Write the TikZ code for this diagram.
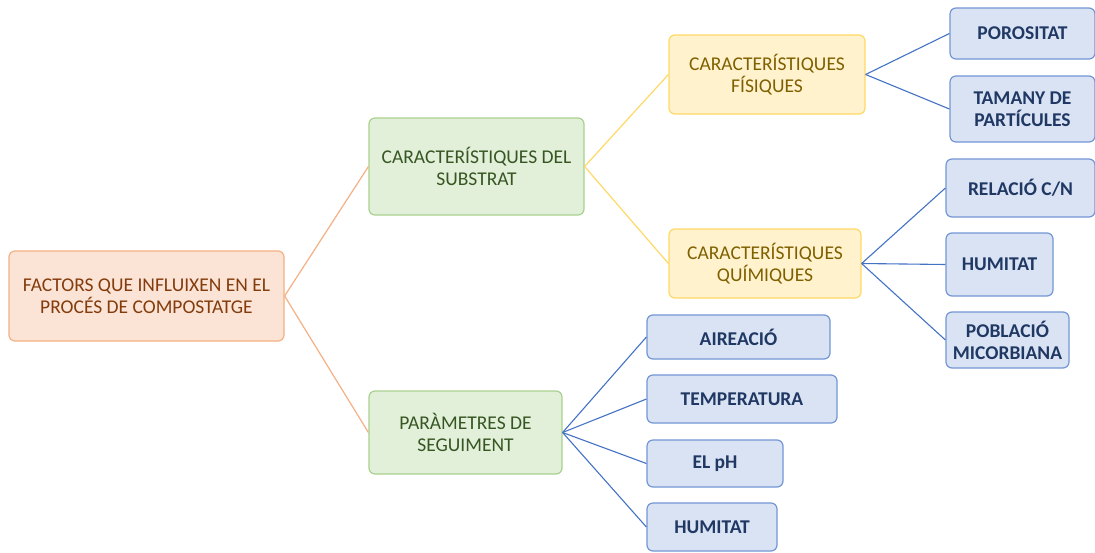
\documentclass[tikz,border=0pt]{standalone}
\usepackage{fontspec}
\setmainfont{Carlito}
\definecolor{rootfill}{HTML}{FBE3D6}
\definecolor{rootline}{HTML}{F4B183}
\definecolor{roottext}{HTML}{843C0C}
\definecolor{greenfill}{HTML}{E2F0D9}
\definecolor{greenline}{HTML}{A9D18E}
\definecolor{greentext}{HTML}{375623}
\definecolor{yellowfill}{HTML}{FFF2CC}
\definecolor{yellowline}{HTML}{FFD966}
\definecolor{yellowtext}{HTML}{7F6000}
\definecolor{bluefill}{HTML}{DAE3F3}
\definecolor{blueline}{HTML}{7396D6}
\definecolor{bluetext}{HTML}{203864}
\definecolor{blueconn}{HTML}{4472C4}
\begin{document}
\begin{tikzpicture}[x=1pt,y=-1pt,
  box/.style={draw, line width=1.2pt, rounded corners=6pt, align=center,
    inner sep=0pt, font=\fontsize{19.5}{22}\selectfont},
  rootbox/.style={box, fill=rootfill, draw=rootline, text=roottext},
  greenbox/.style={box, fill=greenfill, draw=greenline, text=greentext},
  yellowbox/.style={box, fill=yellowfill, draw=yellowline, text=yellowtext},
  bluebox/.style={box, fill=bluefill, draw=blueline, text=bluetext,
    font=\fontsize{19.5}{22}\selectfont\bfseries},
  rootconn/.style={draw=rootline, line width=1.2pt},
  yellowconn/.style={draw=yellowline, line width=1.2pt},
  blueconn/.style={draw=blueconn, line width=1.1pt}]
\useasboundingbox (0,0) rectangle (1095,552);
\fill[white] (0,0) rectangle (1095,552);

% level 0
\node[rootbox, minimum width=275pt, minimum height=90pt] (root) at (146.5,296)
  {FACTORS QUE INFLUIXEN EN EL\\PROCÉS DE COMPOSTATGE};

% level 1
\node[greenbox, minimum width=215pt, minimum height=97pt] (subs) at (476.5,166.5)
  {CARACTERÍSTIQUES DEL\\SUBSTRAT};
\node[greenbox, minimum width=193pt, minimum height=83pt] (param) at (465.5,432.5)
  {PARÀMETRES DE\\SEGUIMENT};

% level 2
\node[yellowbox, minimum width=196pt, minimum height=79pt] (fis) at (767,74.5)
  {CARACTERÍSTIQUES\\FÍSIQUES};
\node[yellowbox, minimum width=192pt, minimum height=69pt] (quim) at (765,263.5)
  {CARACTERÍSTIQUES\\QUÍMIQUES};

% leaves of the physical characteristics
\node[bluebox, minimum width=145pt, minimum height=51pt] (poro) at (1022.5,33.5)
  {POROSITAT};
\node[bluebox, minimum width=145pt, minimum height=66pt] (tam) at (1022.5,109)
  {TAMANY DE\\PARTÍCULES};

% leaves of the chemical characteristics
\node[bluebox, minimum width=149pt, minimum height=58pt] (rel) at (1020.5,188)
  {RELACIÓ C/N};
\node[bluebox, minimum width=107pt, minimum height=63pt] (hum1) at (999.5,264.5)
  {HUMITAT};
\node[bluebox, minimum width=123pt, minimum height=56pt] (pob) at (1007.5,340)
  {POBLACIÓ\\MICORBIANA};

% leaves of the monitoring parameters
\node[bluebox, minimum width=183pt, minimum height=44pt] (aire) at (738.5,337)
  {AIREACIÓ};
\node[bluebox, minimum width=190pt, minimum height=48pt] (temp) at (742,399)
  {TEMPERATURA};
\node[bluebox, minimum width=136pt, minimum height=47pt] (ph) at (715,463.5)
  {EL pH};
\node[bluebox, minimum width=130pt, minimum height=48pt] (hum2) at (712,527)
  {HUMITAT};

% connectors
\draw[rootconn] (root.east) -- (subs.west);
\draw[rootconn] (root.east) -- (param.west);
\draw[yellowconn] (subs.east) -- (fis.west);
\draw[yellowconn] (subs.east) -- (quim.west);
\draw[blueconn] (fis.east) -- (poro.west);
\draw[blueconn] (fis.east) -- (tam.west);
\draw[blueconn] (quim.east) -- (rel.west);
\draw[blueconn] (quim.east) -- (hum1.west);
\draw[blueconn] (quim.east) -- (pob.west);
\draw[blueconn] (param.east) -- (aire.west);
\draw[blueconn] (param.east) -- (temp.west);
\draw[blueconn] (param.east) -- (ph.west);
\draw[blueconn] (param.east) -- (hum2.west);
\end{tikzpicture}
\end{document}
